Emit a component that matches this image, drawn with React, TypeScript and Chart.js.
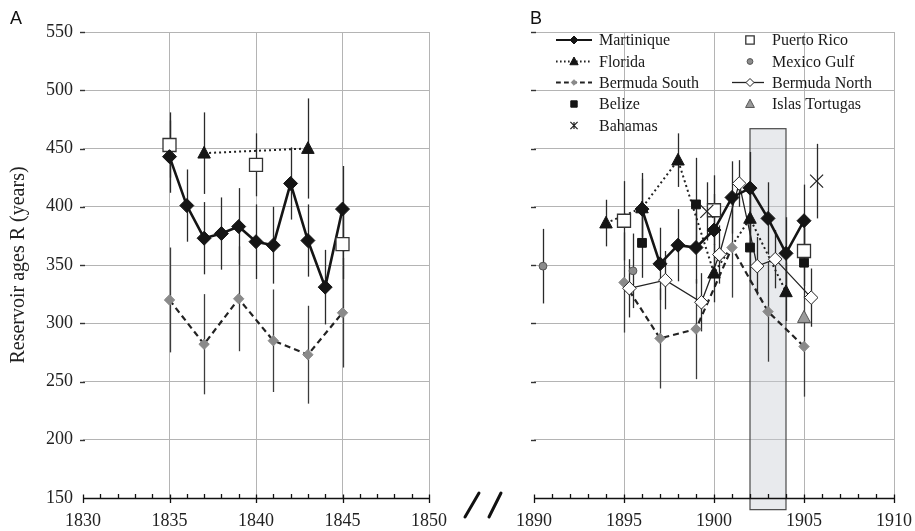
import React, { useEffect, useRef } from 'react';
import { Chart, registerables } from 'chart.js';

Chart.register(...registerables);

// ---------- axes ----------
const yMin = 150;
const yMax = 550;
const yStep = 50;
const xMinA = 1830;
const xMaxA = 1850;
const xMinB = 1890;
const xMaxB = 1910;
const yTitle = 'Reservoir ages R (years)';

// ---------- panel A data ----------
const martiniqueAX = [1835, 1836, 1837, 1838, 1839, 1840, 1841, 1842, 1843, 1844, 1845];
const martiniqueAY = [443, 401, 373, 377, 383, 370, 367, 420, 371, 331, 398];
const martiniqueAErr = [31, 31, 31, 31, 33, 32, 33, 31, 31, 32, 37];
const floridaAX = [1837, 1843];
const floridaAY = [446, 450];
const floridaAErr = [35, 43];
const puertoRicoAX = [1835, 1840, 1845];
const puertoRicoAY = [453, 436, 368];
const puertoRicoAErr = [28, 27, 30];
const bermudaSouthAX = [1835, 1837, 1839, 1841, 1843, 1845];
const bermudaSouthAY = [320, 282, 321, 285, 273, 309];
const bermudaSouthAErr = [45, 43, 45, 44, 42, 47];

// ---------- panel B data ----------
const martiniqueBX = [1896, 1897, 1898, 1899, 1900, 1901, 1902, 1903, 1904, 1905];
const martiniqueBY = [398, 351, 367, 365, 380, 408, 416, 390, 360, 388];
const martiniqueBErr = [31, 31, 31, 31, 31, 31, 31, 31, 31, 31];
const floridaBX = [1894, 1896, 1898, 1900, 1902, 1904];
const floridaBY = [386, 399, 440, 343, 390, 327];
const floridaBErr = [20, 25, 23, 25, 25, 25];
const bermudaSouthBX = [1895, 1897, 1899, 1901, 1903, 1905];
const bermudaSouthBY = [335, 287, 295, 365, 310, 280];
const bermudaSouthBErr = [43, 43, 43, 43, 43, 43];
const belizeBX = [1896, 1899, 1902, 1905];
const belizeBY = [369, 402, 365, 352];
const belizeBErr = [30, 40, 30, 30];
const bahamasBX = [1899.6, 1905.7];
const bahamasBY = [396, 422];
const bahamasBErr = [25, 32];
const puertoRicoBX = [1895, 1900, 1905];
const puertoRicoBY = [388, 397, 362];
const puertoRicoBErr = [34, 30, 30];
const mexicoGulfBX = [1890.5, 1895.5];
const mexicoGulfBY = [349, 345];
const mexicoGulfBErr = [32, 32];
const bermudaNorthBX = [1895.3, 1897.3, 1899.3, 1900.3, 1901.4, 1902.4, 1903.4, 1905.4];
const bermudaNorthBY = [330, 337, 318, 359, 420, 349, 355, 322];
const bermudaNorthBErr = [25, 25, 25, 25, 20, 25, 25, 25];
const islasTortugasBX = [1905];
const islasTortugasBY = [305];
const islasTortugasBErr = [0];
const shadeX = [1902, 1904];
const shadeY = [140, 467];

// ---------- styles ----------
const SERIF = '"Liberation Serif", "Times New Roman", serif';
const SANS = '"Liberation Sans", Arial, sans-serif';

type LineStyle = { width: number; dash: number[]; color: string };
type Style = {
  shape: string; size: number; fill: string; stroke: string; lw: number;
  line?: LineStyle; errColor: string; legendSize: number;
};

const STYLES: Record<string, Style> = {
  Martinique: { shape: 'diamond', size: 7, fill: '#151515', stroke: '#151515', lw: 1, line: { width: 2.6, dash: [], color: '#151515' }, errColor: '#2a2a2a', legendSize: 4 },
  Florida: { shape: 'triangle', size: 6.8, fill: '#151515', stroke: '#151515', lw: 1, line: { width: 2, dash: [2, 3], color: '#222' }, errColor: '#2a2a2a', legendSize: 4.5 },
  'Bermuda South': { shape: 'diamond', size: 5.2, fill: '#8a8a8a', stroke: '#8a8a8a', lw: 1, line: { width: 2.2, dash: [6, 4], color: '#222' }, errColor: '#3c3c3c', legendSize: 2.8 },
  Belize: { shape: 'square', size: 4.4, fill: '#151515', stroke: '#151515', lw: 1, errColor: '#2a2a2a', legendSize: 3.2 },
  Bahamas: { shape: 'x', size: 6.5, fill: 'none', stroke: '#222', lw: 1.2, errColor: '#2a2a2a', legendSize: 3.6 },
  'Puerto Rico': { shape: 'square', size: 6.5, fill: '#ffffff', stroke: '#333', lw: 1.3, errColor: '#2a2a2a', legendSize: 4.2 },
  'Mexico Gulf': { shape: 'circle', size: 3.9, fill: '#8c8c8c', stroke: '#555', lw: 1, errColor: '#2a2a2a', legendSize: 2.9 },
  'Bermuda North': { shape: 'diamond', size: 6.8, fill: '#ffffff', stroke: '#222', lw: 1, line: { width: 1.3, dash: [], color: '#222' }, errColor: '#2a2a2a', legendSize: 4 },
  'Islas Tortugas': { shape: 'triangle', size: 7, fill: '#9a9a9a', stroke: '#555', lw: 1, errColor: '#2a2a2a', legendSize: 4.8 },
};

type Series = { name: string; xs: number[]; ys: number[]; err: number[] };

// dataset order: first = drawn on top
const seriesA: Series[] = [
  { name: 'Martinique', xs: martiniqueAX, ys: martiniqueAY, err: martiniqueAErr },
  { name: 'Florida', xs: floridaAX, ys: floridaAY, err: floridaAErr },
  { name: 'Puerto Rico', xs: puertoRicoAX, ys: puertoRicoAY, err: puertoRicoAErr },
  { name: 'Bermuda South', xs: bermudaSouthAX, ys: bermudaSouthAY, err: bermudaSouthAErr },
];
const seriesB: Series[] = [
  { name: 'Martinique', xs: martiniqueBX, ys: martiniqueBY, err: martiniqueBErr },
  { name: 'Bahamas', xs: bahamasBX, ys: bahamasBY, err: bahamasBErr },
  { name: 'Florida', xs: floridaBX, ys: floridaBY, err: floridaBErr },
  { name: 'Islas Tortugas', xs: islasTortugasBX, ys: islasTortugasBY, err: islasTortugasBErr },
  { name: 'Puerto Rico', xs: puertoRicoBX, ys: puertoRicoBY, err: puertoRicoBErr },
  { name: 'Belize', xs: belizeBX, ys: belizeBY, err: belizeBErr },
  { name: 'Bermuda North', xs: bermudaNorthBX, ys: bermudaNorthBY, err: bermudaNorthBErr },
  { name: 'Mexico Gulf', xs: mexicoGulfBX, ys: mexicoGulfBY, err: mexicoGulfBErr },
  { name: 'Bermuda South', xs: bermudaSouthBX, ys: bermudaSouthBY, err: bermudaSouthBErr },
];

const legendCol1 = ['Martinique', 'Florida', 'Bermuda South', 'Belize', 'Bahamas'];
const legendCol2 = ['Puerto Rico', 'Mexico Gulf', 'Bermuda North', 'Islas Tortugas'];

function drawMarker(ctx: CanvasRenderingContext2D, shape: string, x: number, y: number, r: number, fill: string, stroke: string, lw: number, legendX = false) {
  ctx.save();
  ctx.setLineDash([]);
  ctx.lineWidth = lw;
  ctx.fillStyle = fill;
  ctx.strokeStyle = stroke;
  ctx.beginPath();
  if (shape === 'diamond') {
    ctx.moveTo(x, y - r); ctx.lineTo(x + r, y); ctx.lineTo(x, y + r); ctx.lineTo(x - r, y); ctx.closePath();
  } else if (shape === 'square') {
    ctx.rect(x - r, y - r, 2 * r, 2 * r);
  } else if (shape === 'triangle') {
    ctx.moveTo(x, y - r); ctx.lineTo(x + r * 0.92, y + r * 0.72); ctx.lineTo(x - r * 0.92, y + r * 0.72); ctx.closePath();
  } else if (shape === 'circle') {
    ctx.arc(x, y, r, 0, Math.PI * 2);
  } else if (shape === 'x') {
    ctx.moveTo(x - r, y - r); ctx.lineTo(x + r, y + r);
    ctx.moveTo(x + r, y - r); ctx.lineTo(x - r, y + r);
    if (legendX) { ctx.moveTo(x, y - r); ctx.lineTo(x, y + r); }
    ctx.stroke();
    ctx.restore();
    return;
  }
  if (fill !== 'none') ctx.fill();
  ctx.stroke();
  ctx.restore();
}

function makePlugin(panel: 'A' | 'B', series: Series[]) {
  return {
    id: 'custom' + panel,
    beforeDatasetsDraw(chart: any) {
      const ctx: CanvasRenderingContext2D = chart.ctx;
      const xs = chart.scales.x;
      const ys = chart.scales.y;
      if (panel === 'B') {
        const x1 = xs.getPixelForValue(shadeX[0]);
        const x2 = xs.getPixelForValue(shadeX[1]);
        const y1 = ys.getPixelForValue(shadeY[1]);
        const y2 = ys.getPixelForValue(shadeY[0]);
        ctx.save();
        ctx.fillStyle = 'rgba(200,206,212,0.42)';
        ctx.fillRect(x1, y1, x2 - x1, y2 - y1);
        ctx.strokeStyle = '#4a4a4a';
        ctx.lineWidth = 1.2;
        ctx.strokeRect(x1, y1, x2 - x1, y2 - y1);
        ctx.restore();
      }
      // error bars
      ctx.save();
      ctx.setLineDash([]);
      for (let k = series.length - 1; k >= 0; k--) {
        const s = series[k];
        const st = STYLES[s.name];
        ctx.strokeStyle = st.errColor;
        ctx.lineWidth = 1.3;
        s.xs.forEach((xv, i) => {
          const e = s.err[i];
          if (!e) return;
          const px = Math.round(xs.getPixelForValue(xv)) + 0.5;
          ctx.beginPath();
          ctx.moveTo(px, ys.getPixelForValue(s.ys[i] + e));
          ctx.lineTo(px, ys.getPixelForValue(s.ys[i] - e));
          ctx.stroke();
        });
      }
      ctx.restore();
    },
    afterDatasetsDraw(chart: any) {
      const ctx: CanvasRenderingContext2D = chart.ctx;
      for (let k = series.length - 1; k >= 0; k--) {
        const st = STYLES[series[k].name];
        const meta = chart.getDatasetMeta(k);
        meta.data.forEach((pt: any) => {
          drawMarker(ctx, st.shape, pt.x, pt.y, st.size, st.fill, st.stroke, st.lw);
        });
      }
    },
    afterDraw(chart: any) {
      const ctx: CanvasRenderingContext2D = chart.ctx;
      const xs = chart.scales.x;
      const ys = chart.scales.y;
      const { left, right, bottom } = chart.chartArea;
      ctx.save();
      ctx.setLineDash([]);
      // x axis line and ticks
      ctx.strokeStyle = '#111';
      ctx.lineWidth = 1.6;
      ctx.beginPath();
      ctx.moveTo(left, bottom + 0.5);
      ctx.lineTo(right, bottom + 0.5);
      ctx.stroke();
      ctx.lineWidth = 1.3;
      for (let v = xs.min; v <= xs.max; v++) {
        const px = Math.round(xs.getPixelForValue(v)) + 0.5;
        ctx.beginPath();
        if (v % 5 === 0) { ctx.moveTo(px, bottom - 3.5); ctx.lineTo(px, bottom + 5); }
        else { ctx.moveTo(px, bottom - 4); ctx.lineTo(px, bottom); }
        ctx.stroke();
      }
      // y tick marks
      ctx.strokeStyle = '#333';
      ctx.lineWidth = 1.4;
      for (let v = yMin + yStep; v <= yMax; v += yStep) {
        const py = Math.round(ys.getPixelForValue(v)) + 0.5;
        ctx.beginPath();
        ctx.moveTo(left - 3, py);
        ctx.lineTo(left + 2, py);
        ctx.stroke();
      }
      // panel letter
      ctx.fillStyle = '#111';
      ctx.font = '18px ' + SANS;
      ctx.textBaseline = 'alphabetic';
      ctx.textAlign = 'left';
      ctx.fillText(panel, panel === 'A' ? 10 : 75, 24);

      if (panel === 'B') {
        // legend
        const rows = [40, 61.5, 82.5, 104, 125.5];
        const cols = [
          { items: legendCol1, cx: 119, x1: 101, x2: 137, tx: 144 },
          { items: legendCol2, cx: 295, x1: 277, x2: 309, tx: 317 },
        ];
        ctx.font = '16px ' + SERIF;
        ctx.textBaseline = 'middle';
        cols.forEach((c) => {
          c.items.forEach((name, i) => {
            const st = STYLES[name];
            const y = rows[i];
            if (st.line) {
              ctx.save();
              ctx.strokeStyle = st.line.color;
              ctx.lineWidth = Math.min(st.line.width, 2.2);
              ctx.setLineDash(st.line.dash.map((d) => d * 0.8));
              ctx.beginPath();
              ctx.moveTo(c.x1, y);
              ctx.lineTo(c.x2, y);
              ctx.stroke();
              ctx.restore();
            }
            drawMarker(ctx, st.shape, c.cx, y, st.legendSize, st.fill, st.stroke, st.lw, true);
            ctx.fillStyle = '#1a1a1a';
            ctx.fillText(name, c.tx, y + 1);
          });
        });
        // axis break marks
        ctx.strokeStyle = '#111';
        ctx.lineWidth = 3;
        ctx.lineCap = 'round';
        ctx.beginPath();
        ctx.moveTo(10, 517); ctx.lineTo(24, 493);
        ctx.moveTo(34, 517); ctx.lineTo(46, 493);
        ctx.stroke();
      }
      ctx.restore();
    },
  };
}

function buildConfig(panel: 'A' | 'B'): any {
  const isA = panel === 'A';
  const series = isA ? seriesA : seriesB;
  const xMin = isA ? xMinA : xMinB;
  const xMax = isA ? xMaxA : xMaxB;
  const plotLeft = isA ? 83 : 79;
  const rightPad = isA ? 26 : 21;
  return {
    type: 'line',
    data: {
      datasets: series.map((s) => {
        const st = STYLES[s.name];
        return {
          label: s.name,
          data: s.xs.map((x, i) => ({ x, y: s.ys[i] })),
          showLine: !!st.line,
          borderColor: st.line ? st.line.color : st.stroke,
          borderWidth: st.line ? st.line.width : 0,
          borderDash: st.line ? st.line.dash : [],
          pointRadius: 0,
          pointHoverRadius: 0,
          tension: 0,
          fill: false,
        };
      }),
    },
    options: {
      responsive: false,
      animation: false,
      events: [],
      layout: { padding: { top: 32, right: rightPad, left: 0, bottom: 0 } },
      plugins: { legend: { display: false }, tooltip: { enabled: false } },
      scales: {
        x: {
          type: 'linear',
          min: xMin,
          max: xMax,
          ticks: {
            stepSize: 1,
            autoSkip: false,
            maxRotation: 0,
            padding: 12,
            color: '#222',
            font: { family: SERIF, size: 18 },
            callback: (v: number) => (v % 5 === 0 ? String(v) : ''),
          },
          grid: {
            drawTicks: false,
            lineWidth: 1,
            color: (c: any) => {
              const v = c.tick ? c.tick.value : 0;
              return v % 5 === 0 && v !== xMin ? '#b4b4b4' : 'rgba(0,0,0,0)';
            },
          },
          border: { display: false },
          afterFit: (s: any) => {
            s.height = 33;
            s.paddingLeft = 0;
            s.paddingRight = 0;
          },
        },
        y: {
          min: yMin,
          max: yMax,
          ticks: {
            display: isA,
            stepSize: yStep,
            padding: 10,
            color: '#222',
            font: { family: SERIF, size: 18 },
          },
          grid: {
            drawTicks: false,
            lineWidth: 1,
            color: (c: any) => (c.tick && c.tick.value === yMin ? 'rgba(0,0,0,0)' : '#b4b4b4'),
          },
          border: { display: false },
          title: {
            display: isA,
            text: yTitle,
            color: '#222',
            font: { family: SERIF, size: 20 },
            padding: { top: 7, bottom: 0 },
          },
          afterFit: (s: any) => {
            s.width = plotLeft;
            s.paddingTop = 0;
            s.paddingBottom = 0;
          },
        },
      },
    },
    plugins: [makePlugin(panel, series)],
  };
}

export default function App() {
  const refA = useRef<HTMLCanvasElement>(null);
  const refB = useRef<HTMLCanvasElement>(null);
  useEffect(() => {
    document.body.style.margin = '0';
    const a = new Chart(refA.current as HTMLCanvasElement, buildConfig('A'));
    const b = new Chart(refB.current as HTMLCanvasElement, buildConfig('B'));
    return () => {
      a.destroy();
      b.destroy();
    };
  }, []);
  return (
    <div style={{ position: 'relative', width: 915, height: 531, background: '#ffffff' }}>
      <canvas ref={refA} width={455} height={531} style={{ position: 'absolute', left: 0, top: 0, width: 455, height: 531 }} />
      <canvas ref={refB} width={460} height={531} style={{ position: 'absolute', left: 455, top: 0, width: 460, height: 531 }} />
    </div>
  );
}
